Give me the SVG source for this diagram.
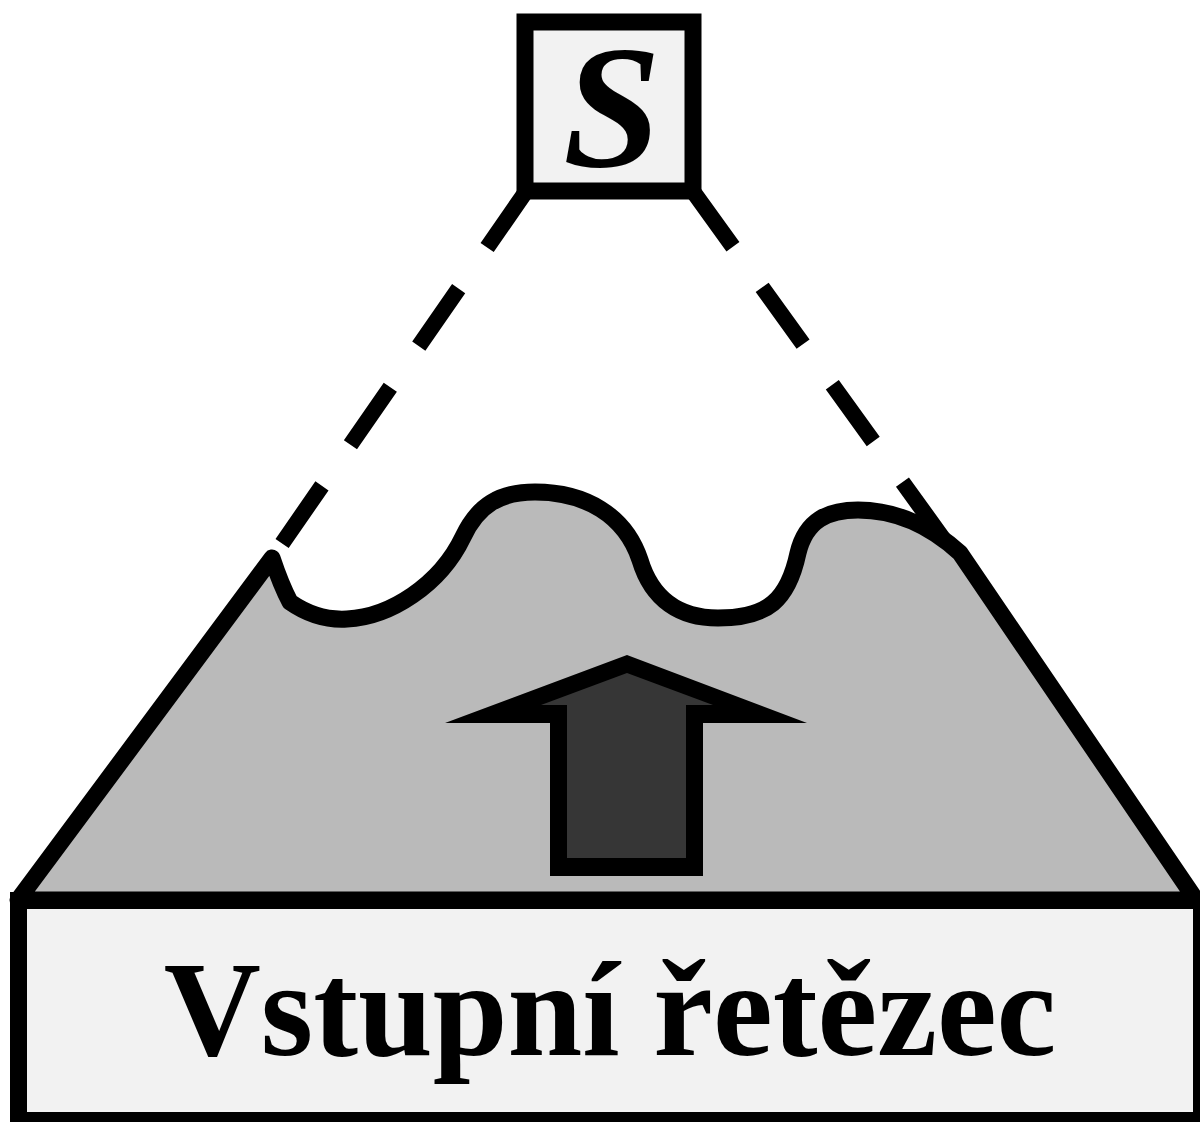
<svg xmlns="http://www.w3.org/2000/svg" width="1200" height="1122" viewBox="0 0 1200 1122">
<style>
.stk{stroke:#000;stroke-width:17;}
.dash{fill:none;stroke:#000;stroke-width:16;stroke-dasharray:70 50;stroke-linecap:butt;}
.lbl{font-family:"Liberation Serif","Times New Roman",serif;fill:#000;}
</style>
<rect x="0" y="0" width="1200" height="1122" fill="#ffffff"/>
<g id="connectors">
<line class="dash" x1="527" y1="190" x2="272" y2="558"/>
<line class="dash" x1="692" y1="190" x2="955" y2="555"/>
</g>
<g id="mountain">
<path class="stk" fill="#bababa" stroke-linejoin="round" d="M 18,900 L 272,558 Q 281,585 290,602 C 310,616 330,620 347,619 C 390,617 440,585 463,537 C 478,505 500,492 535,492 C 585,492 625,515 640,560 C 652,600 680,618 718,618 C 768,618 788,600 798,553 C 806,520 828,510 858,510 C 900,510 935,530 960,553 L 1196,900 Z"/>
</g>
<g id="arrow">
<polygon fill="#000" points="627,655 807,723 703,723 703,876 550,876 550,723 445,723"/>
<polygon fill="#363636" points="627,673 713,705 686,705 686,858 567,858 567,705 541,705"/>
</g>
<g id="input">
<rect class="stk" fill="#f2f2f2" x="18.5" y="900.5" width="1183" height="220"/>
<text class="lbl" x="610" y="1055" font-size="134.5" font-weight="bold" text-anchor="middle">Vstupní řetězec</text>
</g>
<g id="start">
<rect class="stk" fill="#f2f2f2" x="525" y="22" width="168" height="169" stroke-width="16"/>
<text class="lbl" x="612" y="166" font-size="176" font-weight="bold" font-style="italic" text-anchor="middle">S</text>
</g>
</svg>
